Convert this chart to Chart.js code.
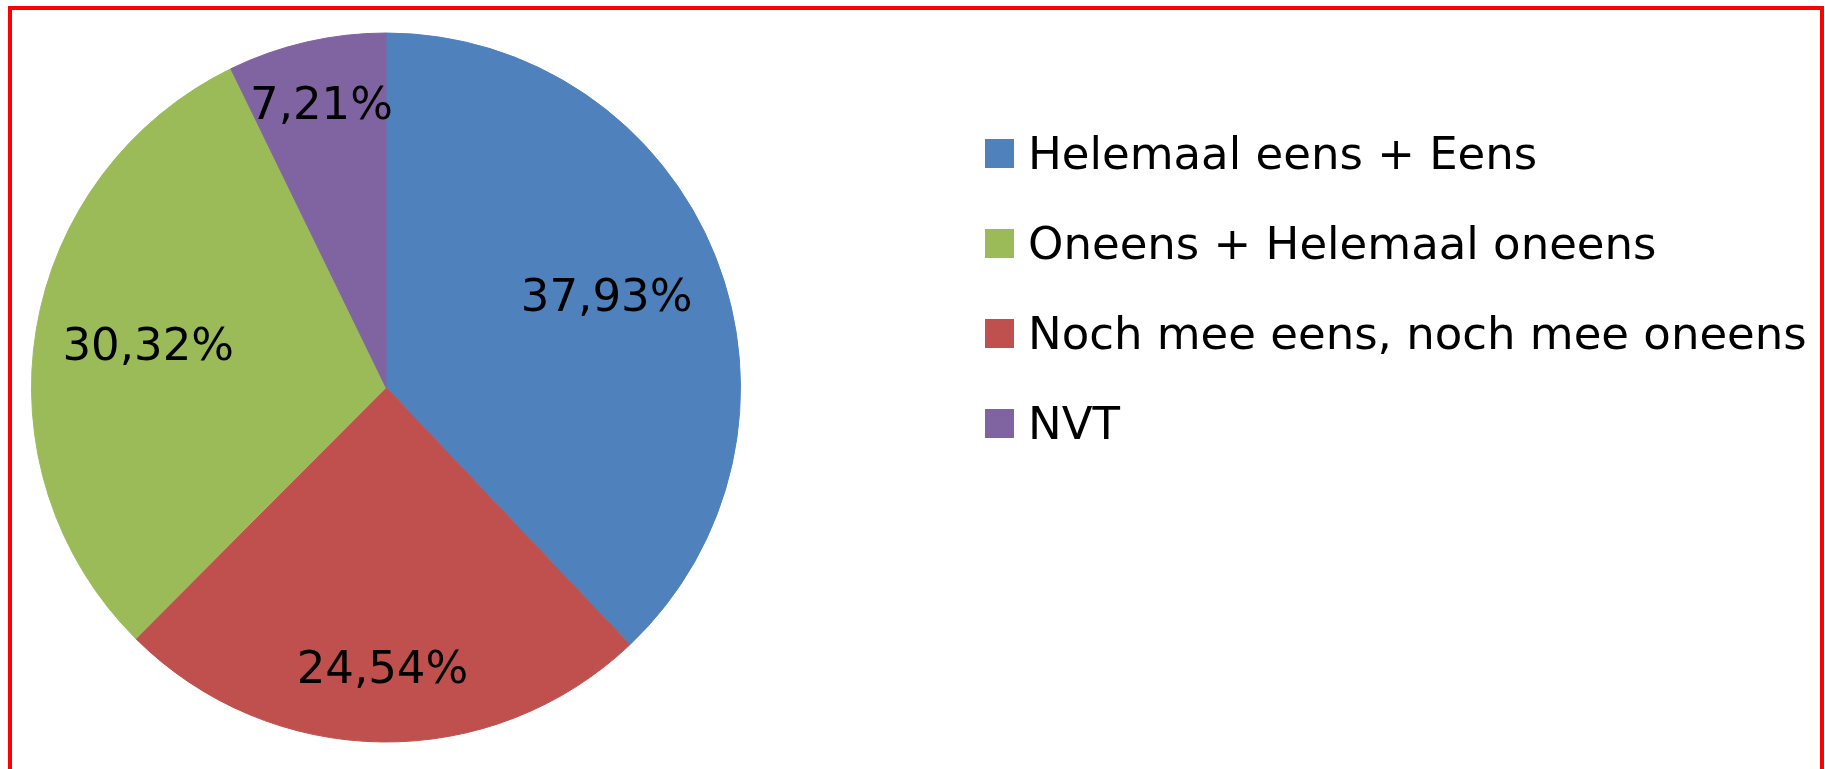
<!DOCTYPE html>
<html>
<head>
<meta charset="utf-8">
<script src="https://cdn.jsdelivr.net/npm/chart.js@4.4.1/dist/chart.umd.min.js"></script>
<style>
    html, body { margin: 0; padding: 0; background: #fff; overflow: hidden; }
    #wrap { position: relative; width: 1825px; height: 769px; }
    #pie { position: absolute; left: 0; top: 0; }
    #frame {
        position: absolute; left: 8px; top: 6px; width: 1816px; height: 800px;
        box-sizing: border-box; border: 4px solid #ff0000; pointer-events: none;
    }
    #legend { position: absolute; left: 985px; top: 108px; font-family: "DejaVu Sans", sans-serif; }
    .legend-item { display: flex; align-items: center; height: 90px; font-size: 45px; color: #000; white-space: nowrap; }
    .legend-box { width: 29px; height: 29px; margin-right: 14px; }
</style>
</head>
<body>
<div id="wrap">
    <canvas id="pie" width="1825" height="769"></canvas>
    <div id="legend"></div>
    <div id="frame"></div>
</div>
<script>
// slices in drawing order (clockwise from 12 o'clock)
const categories = ["Helemaal eens + Eens", "Noch mee eens, noch mee oneens", "Oneens + Helemaal oneens", "NVT"];
const values = [37.93, 24.54, 30.32, 7.21];
const colors = ["#4f81bd", "#c0504d", "#9bbb59", "#8064a2"];
// legend lists them in a different order
const legendOrder = [0, 2, 1, 3];
// how far out the percentage sits, as part of the radius
const labelRadius = [0.67, 0.80, 0.68, 0.81];

const sliceLabels = {
    id: 'sliceLabels',
    afterDatasetsDraw(chart) {
        const ctx = chart.ctx;
        const meta = chart.getDatasetMeta(0);
        ctx.save();
        ctx.font = '45px "DejaVu Sans", sans-serif';
        ctx.fillStyle = "#000";
        ctx.textAlign = "center";
        ctx.textBaseline = "middle";
        meta.data.forEach((arc, i) => {
            const mid = (arc.startAngle + arc.endAngle) / 2;
            const r = arc.outerRadius * labelRadius[i];
            const text = values[i].toFixed(2).replace(".", ",") + "%";
            ctx.fillText(text, arc.x + Math.cos(mid) * r, arc.y + Math.sin(mid) * r);
        });
        ctx.restore();
    }
};

const chart = new Chart(document.getElementById("pie"), {
    type: "pie",
    data: {
        labels: categories,
        datasets: [{
            data: values,
            backgroundColor: colors,
            borderColor: colors,
            borderWidth: 1,
            hoverOffset: 0
        }]
    },
    options: {
        responsive: false,
        animation: false,
        devicePixelRatio: 1,
        layout: { padding: { left: 31, right: 1084, top: 32, bottom: 26 } },
        plugins: {
            legend: { display: false },
            tooltip: { enabled: false }
        }
    },
    plugins: [sliceLabels]
});

// html legend built from the chart data
const legendEl = document.getElementById("legend");
legendOrder.forEach(i => {
    const item = document.createElement("div");
    item.className = "legend-item";
    const box = document.createElement("span");
    box.className = "legend-box";
    box.style.background = chart.data.datasets[0].backgroundColor[i];
    const label = document.createElement("span");
    label.textContent = chart.data.labels[i];
    item.appendChild(box);
    item.appendChild(label);
    legendEl.appendChild(item);
});
</script>
</body>
</html>
